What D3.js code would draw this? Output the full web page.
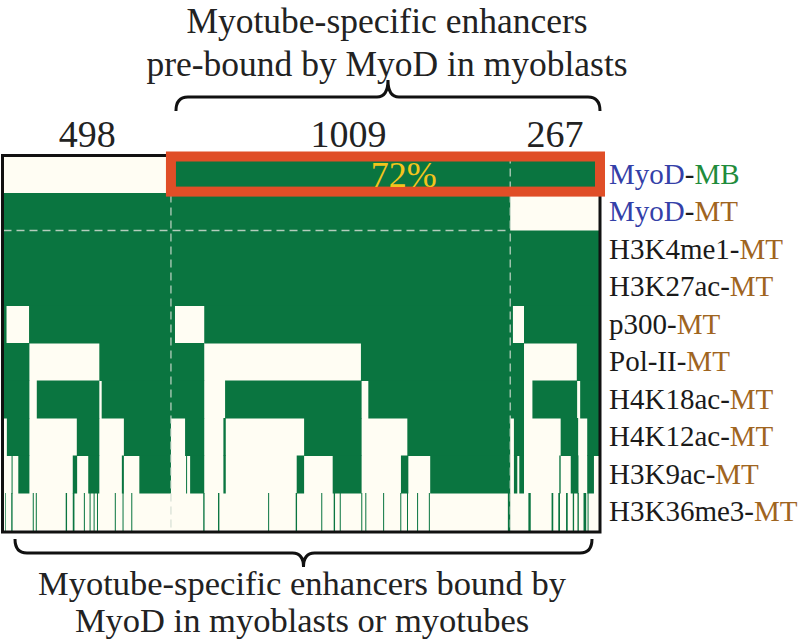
<!DOCTYPE html>
<html>
<head>
<meta charset="utf-8">
<script src="https://cdn.jsdelivr.net/npm/d3@7"></script>
<style>
  body { margin: 0; background: #fff; }
  svg { display: block; }
</style>
</head>
<body>
<svg id="chart"></svg>
<script>
// 三组增强子的数量
const groupSizes = [498, 1009, 267];
const groupLabels = ['498', '1009', '267'];

// 行：标记名 + 细胞类型
const markNames = ['MyoD', 'MyoD', 'H3K4me1', 'H3K27ac', 'p300', 'Pol-II', 'H4K18ac', 'H4K12ac', 'H3K9ac', 'H3K36me3'];
const cellNames = ['MB', 'MT', 'MT', 'MT', 'MT', 'MT', 'MT', 'MT', 'MT', 'MT'];

// 每行中“有信号”(绿色)的增强子区间 [起, 止)，按排序后的增强子序号
const greenRuns = [
  [[498, 1774]],
  [[0, 1507]],
  [[0, 1774]],
  [[0, 1774]],
  [[0, 9], [76, 510], [597, 1515], [1548, 1774]],
  [[0, 77], [285, 597], [1063, 1548], [1705, 1774]],
  [[0, 77], [99, 285], [292, 597], [659, 1065], [1085, 1548], [1573, 1706], [1715, 1774]],
  [[10, 77], [218, 285], [358, 498], [540, 597], [654, 661], [894, 1065], [1201, 1507],
   [1518, 1548], [1657, 1709], [1736, 1774]],
  [[24, 27], [44, 77], [206, 219], [252, 285], [352, 358], [404, 498], [543, 546], [555, 597],
   [654, 661], [872, 894], [979, 1065], [1182, 1204], [1269, 1507], [1518, 1528], [1534, 1548],
   [1653, 1657], [1687, 1710], [1736, 1756]],
  [[5, 7], [23, 27], [87, 90], [96, 99], [185, 189], [206, 211], [239, 242], [256, 259],
   [268, 271], [278, 281], [331, 334], [354, 357], [380, 383], [594, 598], [638, 642],
   [787, 790], [869, 873], [945, 948], [982, 986], [1000, 1003], [1064, 1067], [1076, 1079],
   [1129, 1132], [1180, 1183], [1200, 1203], [1230, 1233], [1265, 1268], [1500, 1507],
   [1561, 1568], [1630, 1635], [1650, 1655], [1673, 1678], [1693, 1697], [1707, 1711],
   [1725, 1733], [1737, 1740]]
];

const pctLabel = '72%';
const pctAt = 1190;
const topTitle = ['Myotube-specific enhancers', 'pre-bound by MyoD in myoblasts'];
const bottomTitle = ['Myotube-specific enhancers bound by', 'MyoD in myoblasts or myotubes'];

// 颜色
const GREEN = '#0a7540';
const CREAM = '#fffdf3';
const RED = '#e04e27';
const YELLOW = '#f3c41c';
const BLUE = '#3440a8';
const BROWN = '#a0651f';
const MBGREEN = '#1f8c3c';
const FONT = '"Liberation Serif", "Times New Roman", serif';

const W = 800, H = 643;
const total = d3.sum(groupSizes);
const bounds = d3.cumsum(groupSizes); // [498, 1507, 1774]
const starts = [0, ...bounds.slice(0, -1)];

const svg = d3.select('#chart').attr('width', W).attr('height', H);
svg.append('rect').attr('width', W).attr('height', H).attr('fill', '#fff');

const x = d3.scaleLinear().domain([0, total]).range([3.5, 600]);
const y = d3.scaleBand().domain(d3.range(markNames.length)).range([155.5, 530.5]);
const bh = y.bandwidth();

// 底色
svg.append('rect')
  .attr('x', x(0)).attr('y', y(0))
  .attr('width', x(total) - x(0)).attr('height', bh * markNames.length)
  .attr('fill', CREAM);

// 绿色单元
const cells = greenRuns.flatMap((runs, i) => runs.map(r => ({ row: i, a: r[0], b: r[1] })));
svg.append('g').selectAll('rect')
  .data(cells)
  .join('rect')
  .attr('x', d => x(d.a))
  .attr('y', d => y(d.row))
  .attr('width', d => x(d.b) - x(d.a))
  .attr('height', bh + 0.5)
  .attr('fill', GREEN);

// 分组虚线
const dash = svg.append('g')
  .attr('stroke', '#d2ddd2')
  .attr('stroke-opacity', 0.85)
  .attr('stroke-width', 1.3)
  .attr('stroke-dasharray', '8,5');
bounds.slice(0, -1).forEach(b => {
  dash.append('line')
    .attr('x1', x(b)).attr('x2', x(b))
    .attr('y1', y(0)).attr('y2', y(markNames.length - 1) + bh);
});
dash.append('line')
  .attr('x1', x(0)).attr('x2', x(bounds[1]))
  .attr('y1', y(2)).attr('y2', y(2));

// 外框
svg.append('rect')
  .attr('x', x(0) - 1).attr('y', y(0))
  .attr('width', x(total) - x(0) + 1).attr('height', bh * markNames.length + 1.5)
  .attr('fill', 'none')
  .attr('stroke', '#111')
  .attr('stroke-width', 3);

// MyoD-MB 红框
svg.append('rect')
  .attr('x', x(bounds[0])).attr('y', y(0) + 1)
  .attr('width', x(total) - x(bounds[0])).attr('height', bh - 2.4)
  .attr('fill', 'none')
  .attr('stroke', RED)
  .attr('stroke-width', 10);

svg.append('text')
  .attr('x', x(pctAt)).attr('y', y(0) + bh / 2 + 12.5)
  .attr('text-anchor', 'middle')
  .attr('font-family', FONT).attr('font-size', 36)
  .attr('fill', YELLOW)
  .text(pctLabel);

// 组计数
svg.append('g').selectAll('text')
  .data(groupLabels)
  .join('text')
  .attr('x', (d, i) => x(starts[i] + groupSizes[i] / 2) + (i === 1 ? 8 : 0))
  .attr('y', 147)
  .attr('text-anchor', 'middle')
  .attr('font-family', FONT).attr('font-size', 38)
  .attr('fill', '#222')
  .text(d => d);

// 右侧行标签
const labels = svg.append('g')
  .attr('font-family', FONT).attr('font-size', 29);
markNames.forEach((m, i) => {
  const t = labels.append('text')
    .attr('x', x(total) + 9)
    .attr('y', y(i) + bh / 2 + 9.5);
  t.append('tspan').attr('fill', m === 'MyoD' ? BLUE : '#1a1a1a').text(m);
  t.append('tspan').attr('fill', '#1a1a1a').text('-');
  t.append('tspan').attr('fill', cellNames[i] === 'MB' ? MBGREEN : BROWN).text(cellNames[i]);
});

// 花括号
const bracePath = (x0, x1, yEnd, yMid, yTip, r, rt) => {
  const xc = (x0 + x1) / 2;
  const p = d3.path();
  p.moveTo(x0, yEnd);
  p.quadraticCurveTo(x0, yMid, x0 + r, yMid);
  p.lineTo(xc - rt, yMid);
  p.quadraticCurveTo(xc, yMid, xc, yTip);
  p.quadraticCurveTo(xc, yMid, xc + rt, yMid);
  p.lineTo(x1 - r, yMid);
  p.quadraticCurveTo(x1, yMid, x1, yEnd);
  return p.toString();
};

svg.append('path')
  .attr('d', bracePath(x(bounds[0]) + 5, x(total), 111, 97, 80, 12, 11))
  .attr('fill', 'none').attr('stroke', '#111').attr('stroke-width', 3);

svg.append('path')
  .attr('d', bracePath(x(0) + 11.5, x(total) - 8, 539, 553, 567, 12, 11))
  .attr('fill', 'none').attr('stroke', '#111').attr('stroke-width', 3);

// 标题
svg.append('g').selectAll('text')
  .data(topTitle)
  .join('text')
  .attr('x', 387)
  .attr('y', (d, i) => 33 + i * 43)
  .attr('text-anchor', 'middle')
  .attr('font-family', FONT).attr('font-size', 35.5)
  .attr('fill', '#222')
  .text(d => d);

svg.append('g').selectAll('text')
  .data(bottomTitle)
  .join('text')
  .attr('x', 302)
  .attr('y', (d, i) => 595 + i * 37)
  .attr('text-anchor', 'middle')
  .attr('font-family', FONT).attr('font-size', 34.5)
  .attr('fill', '#222')
  .text(d => d);
</script>
</body>
</html>
